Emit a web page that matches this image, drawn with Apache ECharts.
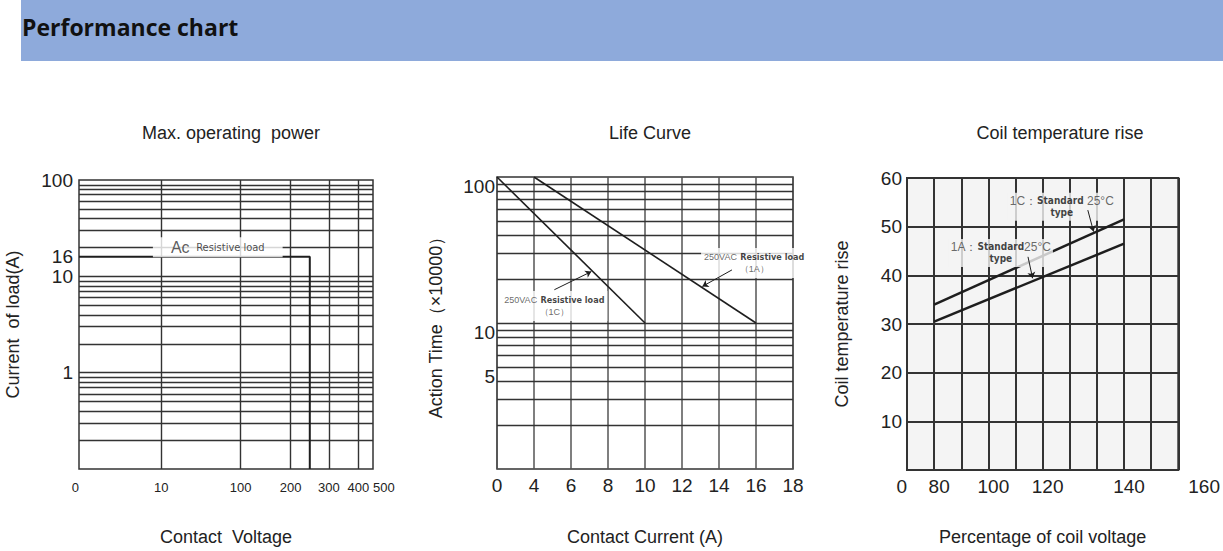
<!DOCTYPE html>
<html>
<head>
<meta charset="utf-8">
<title>Performance chart</title>
<script src="https://cdn.jsdelivr.net/npm/echarts@6/dist/echarts.min.js"></script>
<style>
  html, body { margin: 0; padding: 0; background: #fff; }
  #chart { position: absolute; left: 0; top: 0; width: 1223px; height: 551px; }
  #header {
    position: absolute; left: 21px; top: 0; width: 1202px; height: 61px;
    box-sizing: border-box; padding: 11px 0 0 1px;
    background: #8eaadb; color: #111;
    font: bold 23px "Open Sans", "Noto Sans", sans-serif;
  }
</style>
</head>
<body>
<div id="chart"></div>
<div id="header">Performance chart</div>
<script>
// Max. operating power
const voltTicks = [0, 10, 100, 200, 300, 400, 500];
const voltGrid = [10, 100, 200, 300, 400];
const loadTicks = [1, 10, 16, 100];
const powerVolt = [0, 250, 250];
const powerLoad = [16, 16, 0.1];

// Life curve
const currentTicks = [0, 4, 6, 8, 10, 12, 14, 16, 18];
const lifeTicks = [5, 10, 100];
const life1cCurrent = [0, 10];
const life1cTimes = [100, 10];
const life1aCurrent = [4, 16];
const life1aTimes = [100, 10];

// Coil temperature rise
const coilTicks = [0, 80, 100, 120, 140, 160];
const coilVolt = [80, 140];
const rise1c = [34, 51.5];
const rise1a = [30.5, 46.5];

// steps of one decade on the log paper
const logSteps = [1, 2, 3, 4, 5, 6, 7, 8, 9];

// the printed x axes are hand drawn and not uniform, so each one is a
// piecewise scale: value -> axis unit, linear between anchors
function pieceScale(anchors) {
  return v => {
    for (let i = 1; i < anchors.length; i++) {
      const [v0, u0] = anchors[i - 1];
      const [v1, u1] = anchors[i];
      if (v <= v1 || i === anchors.length - 1) return u0 + (v - v0) / (v1 - v0) * (u1 - u0);
    }
  };
}
const voltScale = pieceScale([[0, 0], [10, 28], [100, 55], [200, 72], [300, 85], [400, 95], [500, 100]]);
const currentScale = pieceScale([[0, 0], [4, 1], [18, 8]]);
const coilScale = pieceScale([[0, 0], [80, 1], [100, 3], [120, 5], [140, 8], [160, 10]]);
const lg = Math.log10;
const same = v => v;

function tickLabels(ticks, scale, rich) {
  const byUnit = new Map(ticks.map(t => [scale(t).toFixed(3), String(t)]));
  const wrap = rich ? s => '{o|' + s + '}' : s => s;
  return { customValues: ticks.map(scale), formatter: u => wrap(byUnit.get(Number(u).toFixed(3)) || '') };
}

function logPaper(decades) {
  const out = [];
  decades.forEach(d => logSteps.forEach(k => out.push(k * d)));
  return out.slice(1); // first one is the frame
}

const ink = '#1e1e1e';
const rule = '#333';
const sans = '"Liberation Sans", Arial, sans-serif';
const narrow = '"Liberation Sans Narrow", "Arial Narrow", "DejaVu Sans Condensed", sans-serif';

function axisBase(extra) {
  return Object.assign({
    type: 'value',
    axisLine: { show: false },
    axisTick: { show: false },
    splitLine: { show: false },
    nameLocation: 'middle',
    nameTextStyle: { fontSize: 18, color: '#222', fontFamily: sans }
  }, extra);
}

function labelStyle(extra) {
  return Object.assign({ fontSize: 19, color: '#222', fontFamily: sans }, extra);
}

function gridLines(i, xs, ys, color, width) {
  return {
    type: 'line', xAxisIndex: i, yAxisIndex: i, data: [], silent: true,
    markLine: {
      silent: true, symbol: 'none', animation: false,
      label: { show: false },
      lineStyle: { type: 'solid', color: color, width: width },
      data: xs.map(x => ({ xAxis: x })).concat(ys.map(y => ({ yAxis: y })))
    }
  };
}

function curve(i, xs, ys, sx, sy, width) {
  return {
    type: 'line', xAxisIndex: i, yAxisIndex: i, z: 6, symbol: 'none', silent: true,
    lineStyle: { color: ink, width: width },
    data: xs.map((x, k) => [sx(x), sy(ys[k])])
  };
}

function notes(i, items, bg, padding) {
  return {
    type: 'scatter', xAxisIndex: i, yAxisIndex: i, z: 10, silent: true,
    symbolSize: 1, itemStyle: { color: 'rgba(0,0,0,0)' },
    label: { show: true, position: 'inside', align: 'center', backgroundColor: bg, padding: padding, color: '#333' },
    data: items.map(n => ({ value: n.at, label: { formatter: n.text, rich: n.rich } }))
  };
}

function arrows(i, items) {
  return {
    type: 'lines', coordinateSystem: 'cartesian2d', xAxisIndex: i, yAxisIndex: i, z: 11, silent: true,
    symbol: ['none', 'arrow'], symbolSize: 6,
    lineStyle: { color: ink, width: 1, opacity: 1 },
    data: items.map(c => ({ coords: c }))
  };
}

const richLife = {
  v: { fontSize: 9, color: '#444', fontFamily: sans, lineHeight: 12 },
  r: { fontSize: 9, color: '#111', fontWeight: 'bold', fontFamily: narrow, lineHeight: 12 },
  n: { fontSize: 9, color: '#444', fontFamily: sans, lineHeight: 12 }
};
const richCoil = {
  k: { fontSize: 12, color: '#444', fontFamily: sans, lineHeight: 12 },
  r: { fontSize: 10, color: '#111', fontWeight: 'bold', fontFamily: narrow, lineHeight: 12 },
  t: { fontSize: 12, color: '#444', fontFamily: sans, lineHeight: 12 }
};

const chart = echarts.init(document.getElementById('chart'), null, { renderer: 'svg' });

chart.setOption({
  animation: false,
  title: [
    { text: 'Max. operating  power', left: 226, top: 119 },
    { text: 'Life Curve', left: 645, top: 119 },
    { text: 'Coil temperature rise', left: 1055, top: 119 }
  ].map(t => Object.assign({ textAlign: 'center', textStyle: { fontSize: 18, fontWeight: 'normal', color: '#222', fontFamily: sans } }, t)),
  grid: [
    { left: 79, top: 180, width: 294, height: 290 },
    { left: 497, top: 177, width: 296, height: 292 },
    { left: 907, top: 178, width: 294, height: 292, backgroundColor: '#f4f4f4', borderWidth: 2 }
  ].map(g => Object.assign({ show: true, borderColor: rule, borderWidth: 1.5, backgroundColor: '#fff' }, g)),
  xAxis: [
    axisBase({
      gridIndex: 0, min: 0, max: 100, name: 'Contact  Voltage', nameGap: 59,
      axisLabel: labelStyle(Object.assign({ fontSize: 13, margin: 12, alignMinLabel: 'right', alignMaxLabel: 'left' },
        tickLabels(voltTicks, voltScale)))
    }),
    axisBase({
      gridIndex: 1, min: 0, max: 8, interval: 1, name: 'Contact Current (A)', nameGap: 59,
      splitLine: { show: true, lineStyle: { color: '#555', width: 1.5 } },
      axisLabel: labelStyle(Object.assign({ margin: 7 }, tickLabels(currentTicks, currentScale)))
    }),
    axisBase({
      gridIndex: 2, min: 0, max: 10, interval: 1, name: 'Percentage of coil voltage', nameGap: 58,
      splitLine: { show: true, lineStyle: { color: rule, width: 2 } },
      axisLabel: labelStyle(Object.assign({
        margin: 7, alignMinLabel: 'right', alignMaxLabel: 'left',
        rich: { o: { fontSize: 19, color: '#222', fontFamily: sans, padding: [0, 0, 0, 10] } }
      }, tickLabels(coilTicks, coilScale, true)))
    })
  ],
  yAxis: [
    axisBase({
      gridIndex: 0, min: -1, max: 2, name: 'Current  of load(A)', nameGap: 57,
      axisLabel: labelStyle(Object.assign({ margin: 6 }, tickLabels(loadTicks, lg)))
    }),
    axisBase({
      gridIndex: 1, min: 0, max: 2, name: 'Action Time（×10000）', nameGap: 52,
      axisLabel: labelStyle(Object.assign({ margin: 2, verticalAlign: 'top' }, tickLabels(lifeTicks, lg)))
    }),
    axisBase({
      gridIndex: 2, min: 0, max: 60, interval: 10, name: 'Coil temperature rise', nameGap: 56,
      splitLine: { show: true, lineStyle: { color: rule, width: 2 } },
      axisLabel: labelStyle({ margin: 5, showMinLabel: false })
    })
  ],
  series: [
    // Max. operating power
    gridLines(0, voltGrid.map(voltScale), logPaper([0.1, 1, 10]).map(lg), rule, 1.4),
    curve(0, powerVolt, powerLoad, voltScale, lg, 2),
    notes(0, [{
      at: [voltScale(74), lg(20)],
      text: '{a|Ac}  {r|Resistive load}',
      rich: {
        a: { fontSize: 16, color: '#333', fontFamily: sans },
        r: { fontSize: 11, color: '#222', fontFamily: narrow }
      }
    }], '#fff', [2, 18]),

    // Life curve
    gridLines(1, [], logPaper([1, 10]).map(lg), rule, 1.4),
    curve(1, life1cCurrent, life1cTimes, currentScale, lg, 1.6),
    curve(1, life1aCurrent, life1aTimes, currentScale, lg, 1.6),
    notes(1, [
      { at: [currentScale(5.1), lg(13.1)], text: '{v|250VAC} {r|Resistive load}\n{n|（1C）}', rich: richLife },
      { at: [currentScale(15.9), lg(25.8)], text: '{v|250VAC} {r|Resistive load}\n{n|（1A）}', rich: richLife }
    ], '#fff', [3, 3]),
    arrows(1, [
      [[currentScale(5.1), lg(16.9)], [currentScale(7.1), lg(22.5)]],
      [[currentScale(14.7), lg(23.1)], [currentScale(13.1), lg(17.8)]]
    ]),

    // Coil temperature rise
    curve(2, coilVolt, rise1c, coilScale, same, 2.5),
    curve(2, coilVolt, rise1a, coilScale, same, 2.5),
    notes(2, [
      { at: [coilScale(124.7), 54.1], text: '{k|1C：}{r|Standard} {t|25°C}\n{r|type}', rich: richCoil },
      { at: [coilScale(104.6), 44.6], text: '{k|1A：}{r|Standard}{t|25°C}\n{r|type}', rich: richCoil }
    ], '#f4f4f4', [2, 2]),
    arrows(2, [
      [[coilScale(131.1), 53.4], [coilScale(132.5), 49.0]],
      [[coilScale(114.6), 43.8], [coilScale(116.3), 39.4]]
    ])
  ]
});
</script>
</body>
</html>
